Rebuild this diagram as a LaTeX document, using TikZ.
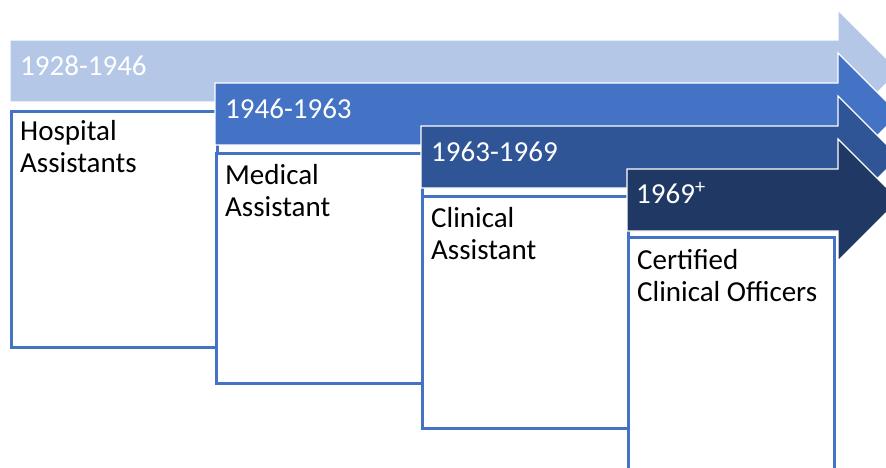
\documentclass[tikz,border=0pt]{standalone}
\usepackage{fontspec}
\setmainfont{Carlito}
\usepackage{xcolor}
\usepackage{tikz}
\usetikzlibrary{positioning}

\definecolor{eraA}{HTML}{B4C7E7}
\definecolor{eraB}{HTML}{4472C4}
\definecolor{eraC}{HTML}{2F5597}
\definecolor{eraD}{HTML}{203864}
\definecolor{cardline}{HTML}{4472C4}

% era band: left x, top y, colour (pixel units)
\newcommand{\eraband}[3]{%
  \filldraw[band=#3] (#1,#2) -- (838,#2) -- (838,#2-30) -- (899,#2+31)
    -- (838,#2+92) -- (838,#2+62) -- (#1,#2+62) -- cycle;}

\begin{document}
\begin{tikzpicture}[
    x=1pt, y=-1pt,
    band/.style={fill=#1, draw=white, line width=1.2pt},
    year/.style={anchor=base west, inner sep=0pt, text=white, font=\fontsize{29}{32}\selectfont},
    card/.style={rectangle, draw=cardline, line width=2.6pt, fill=white, anchor=north west, inner sep=0pt, minimum width=206pt, minimum height=#1},
    role/.style={anchor=base west, inner sep=0pt, align=left, font=\fontsize{29}{32}\selectfont},
]
\useasboundingbox (0,0) rectangle (886,467);
\clip (0,0) rectangle (886,467);

% 1928-1946
\eraband{10}{40}{eraA}
\node[year] (y1) at (20,75) {1928-1946};
\node[card=236pt] (card1) at (10,110) {};
\node[role] (role1) at ([xshift=10pt, yshift=-62pt]card1.north west) {Hospital\\Assistants};

% 1946-1963
\eraband{215}{83}{eraB}
\node[year] (y2) at (225,118) {1946-1963};
\node[card=230pt] (card2) at (215,152) {};
\node[role] (role2) at ([xshift=10pt, yshift=-64pt]card2.north west) {Medical\\Assistant};

% 1963-1969
\eraband{421}{126}{eraC}
\node[year] (y3) at (431,161) {1963-1969};
\node[card=232pt] (card3) at (421,195) {};
\node[role] (role3) at ([xshift=10pt, yshift=-64pt]card3.north west) {Clinical\\Assistant};

% 1969 onwards
\eraband{627}{169}{eraD}
\node[year] (y4) at (636,203) {1969\textsuperscript{+}};
\node[card=240pt] (card4) at (627,236) {};
\node[role] (role4) at ([xshift=10pt, yshift=-65pt]card4.north west) {Certified\\Clinical Officers};

\end{tikzpicture}
\end{document}
